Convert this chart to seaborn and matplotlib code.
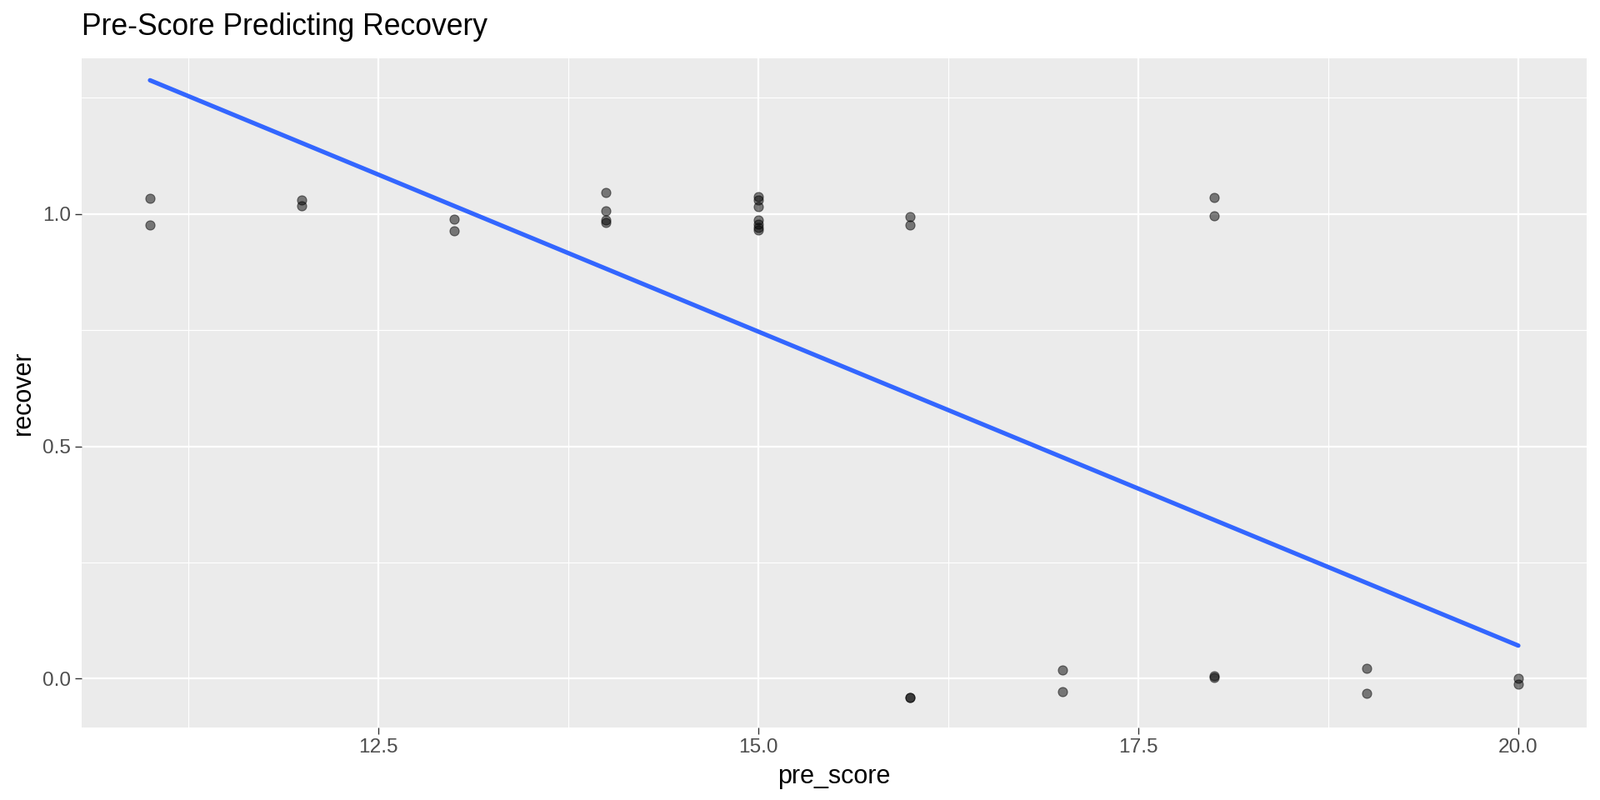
import numpy as np
import pandas as pd
import seaborn as sns
import matplotlib.pyplot as plt
from matplotlib.ticker import MultipleLocator

# jittered points
pre_score = [11, 11, 12, 12, 13, 13,
             14, 14, 14, 14,
             15, 15, 15, 15, 15, 15, 15,
             16, 16, 16, 16,
             17, 17,
             18, 18, 18, 18,
             19, 19,
             20, 20]
recover = [1.033, 0.976, 1.031, 1.017, 0.989, 0.964,
           1.046, 1.007, 0.988, 0.981,
           1.038, 1.031, 1.016, 0.987, 0.978, 0.971, 0.966,
           0.994, 0.977, -0.040, -0.040,
           0.019, -0.027,
           1.035, 0.996, 0.007, 0.003,
           0.022, -0.032,
           0.001, -0.012]

df = pd.DataFrame({"pre_score": pre_score, "recover": recover})
df["recover_raw"] = df["recover"].round()  # the fit uses the 0/1 outcome

sns.set_style("darkgrid", {"axes.facecolor": "#EBEBEB", "grid.color": "white",
                           "text.color": "black", "axes.labelcolor": "black"})
plt.rcParams["font.family"] = ["Liberation Sans", "DejaVu Sans"]

fig, ax = plt.subplots(figsize=(9.6, 4.8), dpi=200)
fig.subplots_adjust(left=0.051, right=0.9917, top=0.927, bottom=0.0906)

sns.scatterplot(data=df, x="pre_score", y="recover", ax=ax, color="black",
                alpha=0.5, s=16, edgecolor="black", linewidth=0.4, zorder=3)
sns.regplot(data=df, x="pre_score", y="recover_raw", ax=ax, scatter=False,
            ci=None, color="#3366FF", line_kws={"linewidth": 1.9, "zorder": 4})

ax.set_xlim(10.55, 20.45)
ax.set_ylim(-0.105, 1.335)
ax.xaxis.set_minor_locator(MultipleLocator(1.25))
ax.yaxis.set_minor_locator(MultipleLocator(0.25))
ax.set_xticks([12.5, 15.0, 17.5, 20.0])
ax.set_xticklabels(["12.5", "15.0", "17.5", "20.0"])
ax.set_yticks([0.0, 0.5, 1.0])
ax.set_yticklabels(["0.0", "0.5", "1.0"])

ax.grid(which="major", color="white", linewidth=0.8)
ax.grid(which="minor", color="white", linewidth=0.4)
ax.tick_params(which="major", length=2.75, width=0.5, color="#333333",
               labelsize=8.8, labelcolor="#4D4D4D", pad=2, bottom=True, left=True)
ax.tick_params(which="minor", length=0)
for sp in ax.spines.values():
    sp.set_visible(False)

ax.set_xlabel("pre_score", fontsize=11, labelpad=3)
ax.set_ylabel("recover", fontsize=11, labelpad=3)
ax.set_title("Pre-Score Predicting Recovery", fontsize=12.8, loc="left", pad=10)

fig.savefig("out.png", dpi=200)
